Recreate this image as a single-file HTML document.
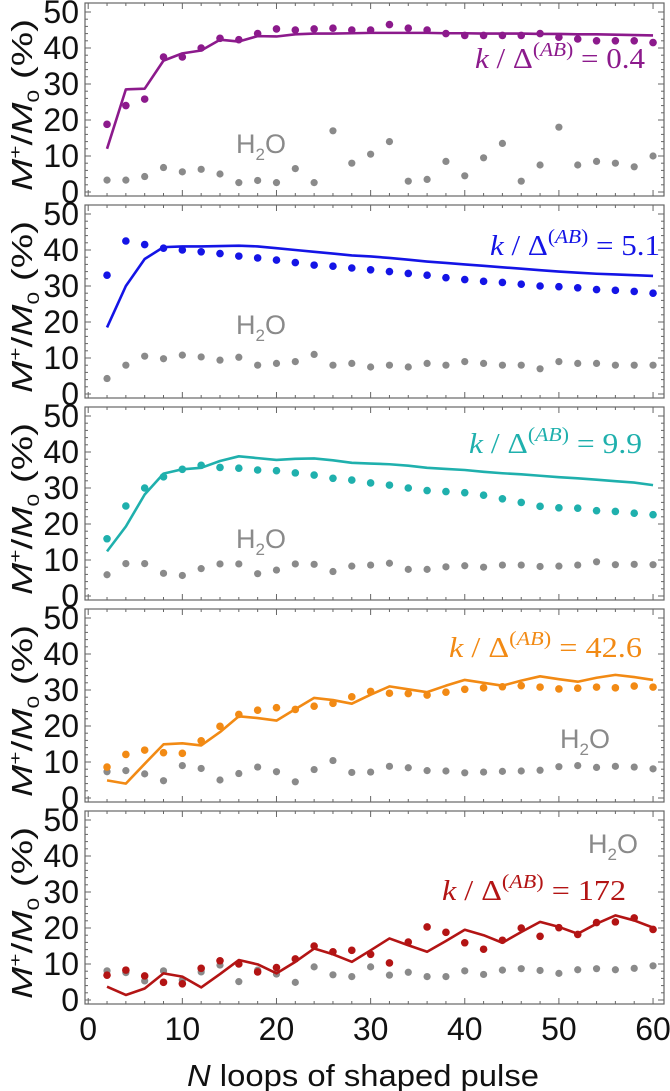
<!DOCTYPE html>
<html><head><meta charset="utf-8"><style>
html,body{margin:0;padding:0;background:#fff;width:670px;height:1091px;overflow:hidden}
svg text{font-family:"Liberation Sans",sans-serif}
</style></head><body>
<svg id="chart" width="670" height="1091" viewBox="0 0 670 1091" xmlns="http://www.w3.org/2000/svg"></svg>
<script>
const xValues=[2,4,6,8,10,12,14,16,18,20,22,24,26,28,30,32,34,36,38,40,42,44,46,48,50,52,54,56,58,60];
const purpleDots=[18.8,24,25.8,37.5,37.5,40,42.7,42.3,44,45.3,45,45.3,45.5,45,45,46.5,45.5,45,44,43.5,43.5,43.5,43.5,44,43,42.5,42,42,42,41.5];
const purpleLine=[12,28.5,28.7,36.5,38.5,39.3,42.3,41.8,43.3,43.2,43.8,44,44,44.1,44.2,44.2,44.2,44.2,44.1,44.1,44,44,44,43.9,43.9,43.8,43.8,43.7,43.6,43.5];
const gray1=[3.3,3.3,4.3,6.8,5.6,6.3,5,2.6,3.2,2.6,6.5,2.6,17,8,10.5,14,3,3.5,8.5,4.5,9.5,13.5,3,7.5,18,7.5,8.5,8,7,10];
const blueDots=[33,42.5,41.5,40.5,40,39.5,39,38.3,37.8,37.2,36.5,35.8,35.5,35,34.5,34,33.5,33,32.3,31.8,31.3,31,30.5,30,29.8,29.5,29,28.8,28.5,28];
const blueLine=[18.5,30,37.5,40.8,41,41,41.1,41.2,41,40.5,40,39.5,39,38.5,38.2,37.8,37.3,36.8,36.4,36,35.6,35.2,34.8,34.4,34,33.7,33.4,33.2,33,32.8];
const gray2=[4.3,8,10.5,9.8,10.8,10.3,9.4,10.2,8,8.5,9,11,8,8.5,7.5,8,7.5,8.5,8,9,8.5,8,8,7,9,8.5,8.5,8,8,8];
const cyanDots=[15.9,25,30,33.1,35.2,36.3,35.7,35.5,35,34.8,34.2,33.6,32.7,32.2,31.4,30.8,30,29.3,29,28.7,28,27,26,24.9,24.5,24.4,23.7,23.5,23,22.6];
const cyanLine=[12.4,19.3,28.2,34,35.2,35.6,37.5,38.8,38.3,37.8,38.1,38.2,37.7,37,36.8,36.6,36.2,35.6,35.3,35,34.5,34.1,33.8,33.4,33,32.7,32.3,31.9,31.5,30.8];
const gray3=[5.9,9,9,6.3,5.7,7.6,8.9,8.9,6.2,7.2,8.9,8.8,6.8,8.3,8.6,9.1,7.4,7.4,8.1,8.4,8,8.6,8.6,8.2,8.3,8.6,9.5,8.7,8.8,8.7];
const orangeDots=[8.6,12.1,13.3,12.6,12.4,15.9,19.9,23.2,24.4,25.1,24.6,25.5,26.3,28.1,29.6,29.1,29,28.6,29.4,30.2,30.6,30.9,31.2,30.8,30.3,30.5,30.8,30.6,31.1,30.8];
const orangeLine=[4.9,4,9.5,14.9,15.2,14.6,18.3,22.7,22.2,21.5,24.7,27.8,27.2,26.2,28.7,31,30.2,29.4,31.2,32.8,32,31.2,32.6,33.8,33,32.3,33.4,34.2,33.6,32.8];
const gray4=[7.3,7.6,6.7,4.8,9,8.2,5,6.8,8.6,7.3,4.5,7.9,10.4,7.1,7.2,8.8,8.4,7.6,7.5,7,7.2,7.4,7.5,7.7,8.7,9,8.5,8.8,8.6,8.1];
const redDots=[6.9,8.3,6.7,4.9,4.5,8.8,10.9,10,7.8,9,11.4,15,13.4,13.8,12.7,10.3,16.1,20.3,18.8,15.9,14.1,16.6,20,17.7,20.1,18.2,21.5,21.7,22.8,19.6];
const redLine=[3.7,1.4,3.2,7.4,6.5,3.5,7.2,11.1,9.9,7.4,10.6,14.3,12.7,10.6,13.8,17.1,15.2,13.4,16.4,19.5,18,15.9,18.9,21.7,20.3,18.4,21.2,23.5,22.1,20.1];
const gray5=[8.1,7.6,5.3,8.1,5.5,7.8,9.7,5.1,8.3,7.2,4.9,9.2,7,6.5,9.2,6.9,7.7,6.5,6.5,8.1,7.1,8.3,8.7,8.2,7.4,8.4,8.7,8.4,8.8,9.5];
const yTicks=[0,10,20,30,40,50];
const xTicks=[0,10,20,30,40,50,60];
const kValues=["0.4","5.1","9.9","42.6","172"];

const panels=[
 {c:"#8c1a8c",d:purpleDots,l:purpleLine,g:gray1,lx:645,ly:68,lw:170,hx:236,hy:142,n:"purple"},
 {c:"#1414e6",d:blueDots,l:blueLine,g:gray2,lx:660,ly:255,lw:170,hx:236,hy:323,n:"blue"},
 {c:"#1fb0ad",d:cyanDots,l:cyanLine,g:gray3,lx:642,ly:453,lw:173,hx:236,hy:537,n:"cyan"},
 {c:"#f28a14",d:orangeDots,l:orangeLine,g:gray4,lx:642,ly:657,lw:193,hx:560,hy:737,n:"orange"},
 {c:"#b31414",d:redDots,l:redLine,g:gray5,lx:626,ly:900,lw:184,hx:588,hy:842,n:"red"}
];
const NS="http://www.w3.org/2000/svg";
const svg=document.getElementById('chart');
function mk(t,a,p){const e=document.createElementNS(NS,t);for(const k in a)e.setAttribute(k,a[k]);(p||svg).appendChild(e);return e;}
const X0=88.2,XS=9.414,L=85,R=664;
function xs(v){return X0+v*XS;}
panels.forEach((p,i)=>{
 const top=3+202*i, y0=top+189;
 const ys=v=>y0-v*3.6;
 const g=mk('g',{});
 
 
 const fr=mk('rect',{x:L,y:top,width:R-L,height:193,fill:'none',stroke:'#666','stroke-width':1.2},g);
 
 
 for(let v=0;v<=60;v+=2){const big=v%10===0;const len=big?6:3;
  mk('line',{x1:xs(v),x2:xs(v),y1:top+193,y2:top+193-len,stroke:'#666','stroke-width':1},g);
  mk('line',{x1:xs(v),x2:xs(v),y1:top,y2:top+len,stroke:'#666','stroke-width':1},g);}
 for(let v=0;v<=50;v+=2){const big=v%10===0;const len=big?6:3;
  mk('line',{x1:L,x2:L+len,y1:ys(v),y2:ys(v),stroke:'#666','stroke-width':1},g);
  mk('line',{x1:R,x2:R-len,y1:ys(v),y2:ys(v),stroke:'#666','stroke-width':1},g);}
 yTicks.forEach(v=>{const t=mk('text',{x:79,y:ys(v)+11,'text-anchor':'end','font-size':32,fill:'#111'},g);t.textContent=v;
  
  });
 const yt=mk('text',{transform:`translate(32,${top+102}) rotate(-90)`,'text-anchor':'middle','font-size':29,fill:'#111',textLength:172,lengthAdjust:'spacingAndGlyphs'},g);
 yt.innerHTML='<tspan font-style="italic">M</tspan><tspan font-size="17" dy="-11">+</tspan><tspan dy="11">/</tspan><tspan font-style="italic">M</tspan><tspan font-size="17" dy="7">0</tspan><tspan dy="-7"> (%)</tspan>';
 
 
 p.g.forEach((v,j)=>{const c=mk('circle',{cx:xs(xValues[j]),cy:ys(v),r:3.6,fill:'#8a8a8a'},g);
  
  });
 const pl=mk('polyline',{points:p.l.map((v,j)=>xs(xValues[j])+','+ys(v)).join(' '),fill:'none',stroke:p.c,'stroke-width':2.6,'stroke-linejoin':'round'},g);
 
 
 p.d.forEach((v,j)=>{const c=mk('circle',{cx:xs(xValues[j]),cy:ys(v),r:3.8,fill:p.c},g);
  
  });
 const h=mk('text',{x:p.hx,y:p.hy+11,'font-size':27,fill:'#8a8a8a'},g);
 h.innerHTML='H<tspan font-size="17" dy="7">2</tspan><tspan dy="-7">O</tspan>';
 
 
 const k=mk('text',{x:p.lx-p.lw,y:p.ly,'font-size':29,fill:p.c,style:'font-family:"Liberation Serif",serif',textLength:p.lw,lengthAdjust:'spacingAndGlyphs'},g);
 k.innerHTML='<tspan font-style="italic">k</tspan> / Δ<tspan font-size="20" dy="-12">(<tspan font-style="italic">AB</tspan>)</tspan><tspan dy="12"> = '+kValues[i]+'</tspan>';
 
 
});
xTicks.forEach(v=>{const t=mk('text',{x:xs(v),y:1040,'text-anchor':'middle','font-size':32,fill:'#111'});t.textContent=v;
 
 });
const xt=mk('text',{x:363,y:1086,'text-anchor':'middle','font-size':31,fill:'#111',textLength:352,lengthAdjust:'spacingAndGlyphs'});
xt.innerHTML='<tspan font-style="italic">N</tspan> loops of shaped pulse';


</script>
</body></html>
